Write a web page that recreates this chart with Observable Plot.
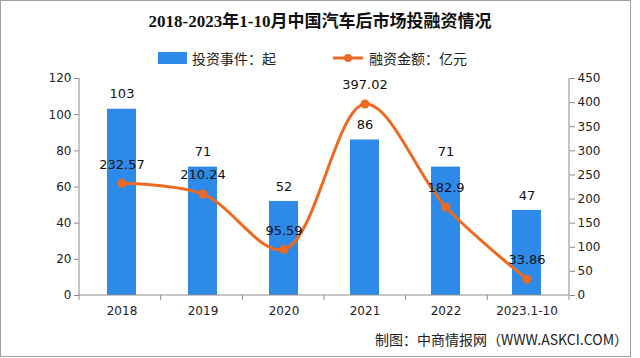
<!DOCTYPE html>
<html><head><meta charset="utf-8">
<script src="https://cdn.jsdelivr.net/npm/d3@7"></script>
<script src="https://cdn.jsdelivr.net/npm/@observablehq/plot@0.6"></script>
<style>
body{margin:0;background:#fff;}
#wrap{position:relative;width:640px;height:358px;overflow:hidden;font-family:"Noto Sans CJK SC",sans-serif;}
#frame{position:absolute;left:0;top:0;width:629px;height:355px;border:1px solid #a0a0a0;box-sizing:content-box;}
#title{position:absolute;top:10px;left:0;width:640px;text-align:center;font-weight:bold;font-size:17px;font-family:"Liberation Serif","Noto Sans CJK SC",serif;color:#111;line-height:24px;}
.lg{position:absolute;font-size:14px;color:#222;line-height:16px;}
#chart{position:absolute;left:0;top:68px;}
#caption{position:absolute;right:12px;top:330px;font-size:14px;color:#222;line-height:18px;}
.wm{position:absolute;color:#d6e6f5;font-size:22px;font-weight:bold;transform:rotate(-45deg);white-space:nowrap;opacity:0.7;}
</style></head>
<body>
<div id="wrap">
  <div id="frame"></div>
  <div id="title">2018-2023年1-10月中国汽车后市场投融资情况</div>
  <div class="lg" style="left:158px;top:52px;width:29px;height:12px;background:#2e8ae8;"></div>
  <div class="lg" style="left:192px;top:50px;">投资事件：起</div>
  <svg class="lg" style="left:333px;top:51px;" width="30" height="14"><line x1="0" y1="7" x2="30" y2="7" stroke="#ec6a22" stroke-width="3"/><circle cx="15" cy="7" r="4" fill="#ec6a22"/></svg>
  <div class="lg" style="left:369px;top:50px;">融资金额：亿元</div>
  <div id="chart"></div>
  <div id="caption">制图：中商情报网（WWW.ASKCI.COM）</div>
</div>
<script>
const categories = ["2018", "2019", "2020", "2021", "2022", "2023.1-10"];
const events = [103, 71, 52, 86, 71, 47];
const amounts = [232.57, 210.24, 95.59, 397.02, 182.9, 33.86];
const amountLabels = ["232.57", "210.24", "95.59", "397.02", "182.9", "33.86"];
const leftTicks = [0, 20, 40, 60, 80, 100, 120];
const rightTicks = [0, 50, 100, 150, 200, 250, 300, 350, 400, 450];

const BLUE = "#2e8ae8", ORANGE = "#ec6a22", AXIS = "#8c8c8c";
const K = 120 / 450;
const data = categories.map((c, i) => ({cat: c, events: events[i], amount: amounts[i], alabel: amountLabels[i]}));

function axisLines(index, scales, values, dim) {
  const g = d3.create("svg:g").attr("stroke", AXIS).attr("fill", "none");
  const L = dim.marginLeft, R = dim.width - dim.marginRight, T = dim.marginTop, B = dim.height - dim.marginBottom;
  g.append("line").attr("x1", L).attr("x2", L).attr("y1", T).attr("y2", B);
  g.append("line").attr("x1", R).attr("x2", R).attr("y1", T).attr("y2", B);
  g.append("line").attr("x1", L).attr("x2", R).attr("y1", B).attr("y2", B);
  const n = categories.length, step = (R - L) / n;
  for (let i = 0; i <= n; i++) {
    const x = L + i * step;
    g.append("line").attr("x1", x).attr("x2", x).attr("y1", B).attr("y2", B + 5);
  }
  return g.node();
}

const chart = Plot.plot({
  width: 640, height: 262,
  marginTop: 10, marginBottom: 35, marginLeft: 79, marginRight: 71,
  x: {domain: categories, paddingInner: 0.645, paddingOuter: 0.3225, label: null, axis: null},
  y: {domain: [0, 120], label: null, axis: null},
  style: {fontFamily: "'DejaVu Sans', 'Noto Sans CJK SC', sans-serif", fontSize: "12px", color: "#222", background: "transparent", overflow: "visible"},
  marks: [
    Plot.barY(data, {x: "cat", y: "events", fill: BLUE}),
    Plot.text(data, {x: "cat", y: "events", text: d => String(d.events), dy: -15, fontSize: 13, fill: "#111"}),
    Plot.line(data, {x: "cat", y: d => d.amount * K, stroke: ORANGE, strokeWidth: 3, curve: "catmull-rom"}),
    Plot.dot(data, {x: "cat", y: d => d.amount * K, r: 4.5, fill: ORANGE}),
    Plot.text(data, {x: "cat", y: d => d.amount * K, text: "alabel", dy: -19, fontSize: 13, fill: "#111"}),
    axisLines,
    Plot.axisY(leftTicks, {anchor: "left", tickSize: 5, tickPadding: 3, stroke: AXIS, fill: "#222", fontSize: 12, label: null}),
    Plot.axisY(rightTicks.map(v => v * K), {anchor: "right", tickSize: 5, tickPadding: 3, stroke: AXIS, fill: "#222", fontSize: 12, label: null, tickFormat: d => String(Math.round(d / K))}),
    Plot.axisX({anchor: "bottom", tickSize: 0, tickPadding: 11, fill: "#222", fontSize: 12, label: null})
  ]
});
document.getElementById("chart").appendChild(chart);
</script>
</body></html>
